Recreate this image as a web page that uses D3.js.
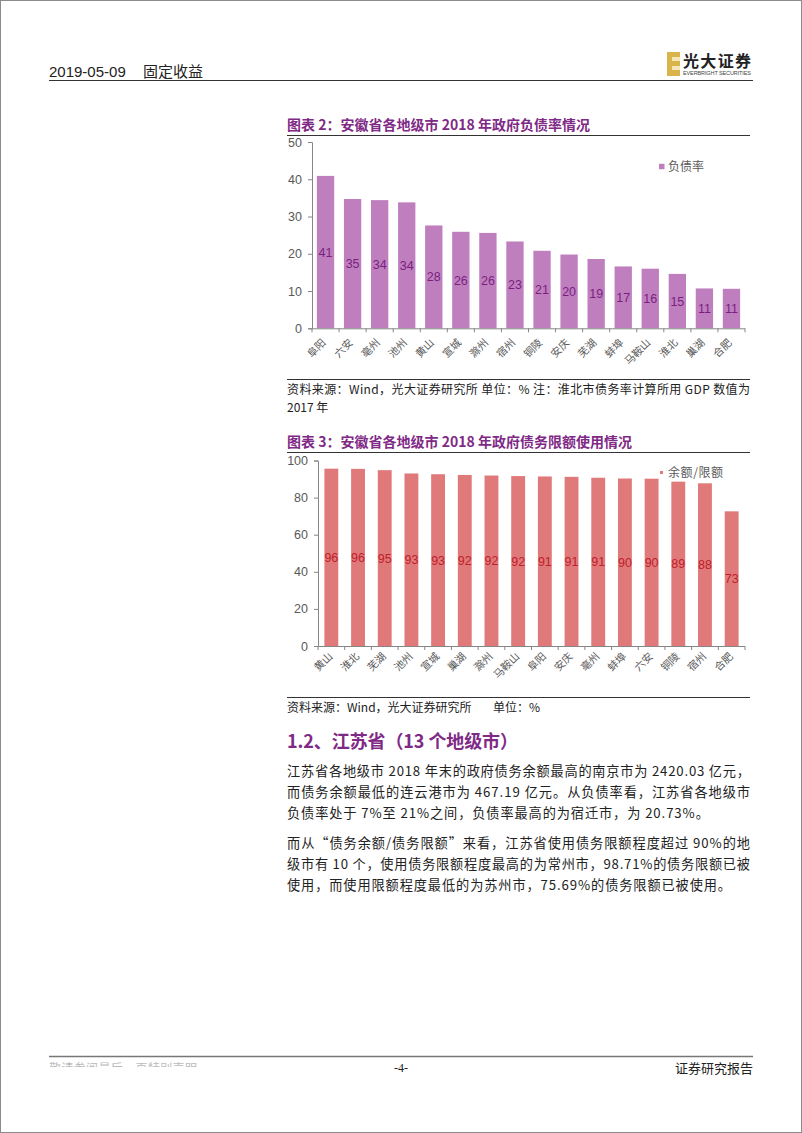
<!DOCTYPE html>
<html><head><meta charset="utf-8">
<script src="https://cdn.jsdelivr.net/npm/d3@7"></script>
<style>
html,body{margin:0;padding:0;background:#fff;}
svg{display:block;}
text{font-family:"Liberation Sans","Noto Sans CJK SC",sans-serif;}
</style></head>
<body>
<script>
// ---- data ----
const cities1 = ["阜阳","六安","亳州","池州","黄山","宣城","滁州","宿州","铜陵","安庆","芜湖","蚌埠","马鞍山","淮北","巢湖","合肥"];
const debtRatio = [40.9,34.7,34.4,33.8,27.6,25.9,25.6,23.3,20.8,19.8,18.6,16.6,16.0,14.6,10.7,10.6];
const ticks1 = [0,10,20,30,40,50];

const cities2 = ["黄山","淮北","芜湖","池州","宣城","巢湖","滁州","马鞍山","阜阳","安庆","亳州","蚌埠","六安","铜陵","宿州","合肥"];
const limitUse = [95.6,95.5,94.8,93.0,92.6,92.2,91.9,91.6,91.4,91.2,90.7,90.3,90.2,88.6,87.7,72.6];
const ticks2 = [0,20,40,60,80,100];

const W = 802, H = 1133;
const CJK = '"Noto Sans CJK SC","Liberation Sans",sans-serif';
const svg = d3.select("body").append("svg").attr("width", W).attr("height", H);
svg.append("rect").attr("x",0.5).attr("y",0.5).attr("width",W-1).attr("height",H-1).attr("fill","#fff").attr("stroke","#8c8c8c");

// ---- header ----
svg.append("text").attr("x",49).attr("y",77).attr("font-size",15).attr("fill","#222").text("2019-05-09");
svg.append("text").attr("x",143).attr("y",77).attr("font-size",15).attr("fill","#222").style("font-family",CJK).text("固定收益");
svg.append("line").attr("x1",49).attr("x2",753).attr("y1",80.5).attr("y2",80.5).attr("stroke","#333").attr("stroke-width",1.2);
// logo
const lg = svg.append("g");
lg.append("rect").attr("x",667).attr("y",52).attr("width",13).attr("height",24).attr("fill","#d9b44a");
lg.append("rect").attr("x",672).attr("y",57).attr("width",8).attr("height",4).attr("fill","#f5e6b8");
lg.append("rect").attr("x",672).attr("y",66).attr("width",8).attr("height",4).attr("fill","#f5e6b8");
lg.append("text").attr("x",683).attr("y",67).attr("font-size",16).attr("font-weight","bold").attr("fill","#222").style("font-family",CJK).attr("textLength",68).text("光大证券");
lg.append("text").attr("x",683).attr("y",75).attr("font-size",5.5).attr("fill","#444").attr("textLength",68).text("EVERBRIGHT SECURITIES");

// ---- helper: chart ----
function chart(o){
  const g = svg.append("g");
  g.append("text").attr("x",287).attr("y",o.titleY).attr("font-size",14).attr("font-weight","bold")
    .attr("fill","#7f2a86").style("font-family",CJK).attr("textLength",o.titleLen).attr("lengthAdjust","spacing").text(o.title);
  g.append("line").attr("x1",287).attr("x2",750).attr("y1",o.ruleY).attr("y2",o.ruleY).attr("stroke","#333").attr("stroke-width",1);

  const x = d3.scaleBand().domain(o.cats).range([o.x0, 745]).paddingInner(o.pad).paddingOuter(o.pad/2);
  const y = d3.scaleLinear().domain([0, o.max]).range([o.y0, o.y1]);

  // bars
  g.selectAll(".bar").data(o.vals).join("rect")
    .attr("x",(d,i)=>x(o.cats[i])).attr("width",x.bandwidth())
    .attr("y",d=>y(d)).attr("height",d=>y(0)-y(d)).attr("fill",o.color);
  // labels
  g.selectAll(".lab").data(o.vals).join("text")
    .attr("x",(d,i)=>x(o.cats[i])+x.bandwidth()/2).attr("y",d=>(y(d)+y(0))/2+4.5)
    .attr("text-anchor","middle").attr("font-size",12.5).attr("fill",o.labColor).text(d=>Math.round(d));

  // y axis
  const ya = g.append("g").attr("transform",`translate(${o.x0},0)`)
    .call(d3.axisLeft(y).tickValues(o.ticks).tickSize(4).tickPadding(6).tickFormat(d3.format("d")));
  ya.select(".domain").attr("stroke","#868686");
  ya.selectAll(".tick line").attr("stroke","#868686");
  ya.selectAll("text").attr("font-size",12.5).attr("fill","#595959").style("font-family",'"Liberation Sans",sans-serif');

  // x axis
  const xa = g.append("g").attr("transform",`translate(0,${o.y0})`);
  xa.append("line").attr("x1",o.x0).attr("x2",745).attr("y1",0.5).attr("y2",0.5).attr("stroke","#868686");
  const bounds = o.cats.map(c=>x(c)-x.step()*x.paddingInner()/2).concat([745]);
  xa.selectAll(".tk").data(bounds).join("line").attr("x1",d=>d).attr("x2",d=>d).attr("y1",0).attr("y2",4).attr("stroke","#868686");
  xa.selectAll(".xl").data(o.cats).join("text")
    .attr("transform",d=>`translate(${x(d)+x.bandwidth()/2+o.lx},${o.ly}) rotate(-45)`)
    .attr("text-anchor","end").attr("font-size",10.5).attr("fill","#595959").style("font-family",CJK).text(d=>d);

  // legend
  g.append("rect").attr("x",o.legX).attr("y",o.legY-o.legS/2).attr("width",o.legS).attr("height",o.legS).attr("fill",o.color);
  g.append("text").attr("x",668).attr("y",o.legY+4.5).attr("font-size",12).attr("fill","#595959").style("font-family",CJK)
    .attr("textLength",o.legLen).attr("lengthAdjust","spacing").text(o.legend);

  // source
  g.append("line").attr("x1",287).attr("x2",750).attr("y1",o.srcRule).attr("y2",o.srcRule).attr("stroke","#333").attr("stroke-width",1);
  return g;
}

chart({title:"图表 2：安徽省各地级市 2018 年政府负债率情况", titleY:130, titleLen:303, ruleY:135.5,
  cats:cities1, vals:debtRatio, ticks:ticks1, max:50, x0:312, y0:328.3, y1:142, pad:0.36,
  color:"#bf7fbf", labColor:"#7a1f7e", lx:1, ly:15, legX:659, legY:166.5, legS:5.5, legend:"负债率", legLen:36, srcRule:379.5});

chart({title:"图表 3：安徽省各地级市 2018 年政府债务限额使用情况", titleY:447, titleLen:345, ruleY:452.5,
  cats:cities2, vals:limitUse, ticks:ticks2, max:100, x0:318, y0:646, y1:460.5, pad:0.48,
  color:"#e07a7a", labColor:"#c0202a", lx:2, ly:11, legX:660, legY:472.5, legS:3, legend:"余额/限额", legLen:55, srcRule:697.5});

// sources
svg.append("text").attr("x",287).attr("y",394).attr("font-size",12).attr("fill","#222").style("font-family",CJK)
  .attr("textLength",463).attr("lengthAdjust","spacing").text("资料来源：Wind，光大证券研究所 单位：%  注：淮北市债务率计算所用 GDP 数值为");
svg.append("text").attr("x",287).attr("y",412).attr("font-size",12).attr("fill","#222").style("font-family",CJK).text("2017 年");
svg.append("text").attr("x",287).attr("y",712).attr("font-size",12).attr("fill","#222").style("font-family",CJK).text("资料来源：Wind，光大证券研究所");
svg.append("text").attr("x",493).attr("y",712).attr("font-size",12).attr("fill","#222").style("font-family",CJK).text("单位：%");

// ---- section text ----
svg.append("text").attr("x",287).attr("y",748).attr("font-size",18).attr("font-weight","bold").attr("fill","#7f2a86")
  .style("font-family",CJK).attr("textLength",231).attr("lengthAdjust","spacing").text("1.2、江苏省（13 个地级市）");
const paras = [
  {t:"江苏省各地级市 2018 年末的政府债务余额最高的南京市为 2420.03 亿元，", y:776, j:true},
  {t:"而债务余额最低的连云港市为 467.19 亿元。从负债率看，江苏省各地级市", y:797, j:true},
  {t:"负债率处于 7%至 21%之间，负债率最高的为宿迁市，为 20.73%。", y:818, j:false},
  {t:"而从“债务余额/债务限额”来看，江苏省使用债务限额程度超过 90%的地", y:848, j:true},
  {t:"级市有 10 个，使用债务限额程度最高的为常州市，98.71%的债务限额已被", y:869, j:true},
  {t:"使用，而使用限额程度最低的为苏州市，75.69%的债务限额已被使用。", y:890, j:false}
];
paras.forEach(p=>{
  const t = svg.append("text").attr("x",287).attr("y",p.y).attr("font-size",13.2).attr("fill","#222").style("font-family",CJK).text(p.t);
  if(p.j) t.attr("textLength",463).attr("lengthAdjust","spacing");
  else t.attr("letter-spacing",0.9);
});

// ---- footer ----
svg.append("line").attr("x1",49).attr("x2",753).attr("y1",1056.5).attr("y2",1056.5).attr("stroke","#777").attr("stroke-width",1.5);
svg.append("clipPath").attr("id","fc").append("rect").attr("x",40).attr("y",1062).attr("width",200).attr("height",5);
svg.append("text").attr("x",49).attr("y",1073).attr("font-size",12).attr("fill","#bbb").attr("clip-path","url(#fc)")
  .style("font-family",CJK).attr("textLength",148).attr("lengthAdjust","spacing").text("敬请参阅最后一页特别声明");
svg.append("text").attr("x",401).attr("y",1072).attr("text-anchor","middle").attr("font-size",12).attr("fill","#222")
  .style("font-family",'"Liberation Serif",serif').text("-4-");
svg.append("text").attr("x",753).attr("y",1073).attr("text-anchor","end").attr("font-size",13).attr("fill","#222")
  .style("font-family",CJK).text("证券研究报告");
</script>
</body></html>
